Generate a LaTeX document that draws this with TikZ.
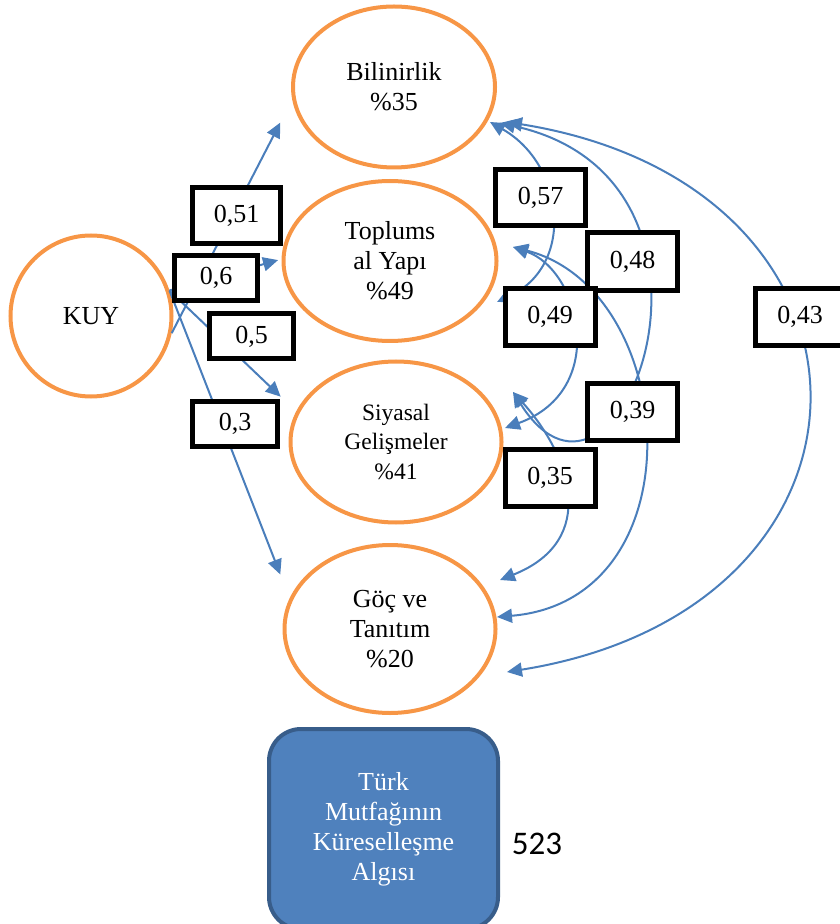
\documentclass[tikz,border=0pt]{standalone}
\usepackage{fontspec}
\setmainfont{Liberation Serif}
\newfontfamily\calibri{Carlito}
\usetikzlibrary{arrows.meta}
\usetikzlibrary{shapes.geometric}

\definecolor{korange}{HTML}{F79646}
\definecolor{kline}{HTML}{4A7EBB}
\definecolor{kfill}{HTML}{4F81BD}
\definecolor{kedge}{HTML}{385D8A}

\begin{document}
\begin{tikzpicture}[x=0.5pt,y=-0.5pt,
>={Triangle[length=7.5pt,width=7pt]},
reg/.style={->, draw=kline, line width=1pt},
kov/.style={<->, draw=kline, line width=1pt},
every node/.style={font=\fontsize{13}{15}\selectfont}]
\tikzstyle{fac} = [draw=korange, line width=2pt, ellipse, inner sep=0pt, align=center]
\tikzstyle{wt} = [draw=black, line width=2.5pt, fill=white, inner sep=0pt, minimum width=42pt, minimum height=22.5pt]
\tikzstyle{WT} = [draw=black, line width=2.5pt, fill=white, inner sep=0pt, minimum width=45pt, minimum height=28.5pt]

\useasboundingbox (0,0) rectangle (839,924);

\node[fac, minimum width=80.5pt, minimum height=80.5pt](kuy) at (91,316){KUY};
\node[fac, minimum width=101pt, minimum height=80.5pt](bil) at (394,87){Bilinirlik\\\%35};
\node[fac, minimum width=106.5pt, minimum height=80pt](topl) at (390,261){Toplums\\al Yapı\\\%49};
\node[fac, minimum width=105.5pt, minimum height=80.5pt,
  font=\fontsize{11.75}{14.75}\selectfont](siy) at (396,442){Siyasal\\Gelişmeler\\\%41};
\node[fac, minimum width=105.5pt, minimum height=84pt](goc) at (390,629){Göç ve\\Tanıtım\\\%20};

\node[draw=kedge, fill=kfill, line width=2pt, rounded corners=16pt, text=white,
  minimum width=114.5pt, minimum height=100pt, align=center](tmk) at (383.5,829)
  {Türk\\Mutfağının\\Küreselleşme\\Algısı};
\node[font=\calibri\fontsize{16.5}{18}\selectfont](n523) at (537,844){523};

% paths from KUY
\draw[reg, shorten >=13pt] (kuy.-12) -- (bil.187);
\draw[reg, shorten >=1.8pt] (kuy.18) -- (topl.179);
\draw[reg, shorten >=10.7pt] (kuy.18) -- (siy.163);
\draw[reg, shorten >=12.8pt] (kuy.18) -- (goc.163);

% correlation ends
\coordinate(b1) at ([shift={(96,35)}]bil.center);
\coordinate(b2) at ([shift={(106,36)}]bil.center);
\coordinate(b3) at ([shift={(113,35)}]bil.center);
\coordinate(t1) at ([shift={(107,41)}]topl.center);
\coordinate(t2) at ([shift={(123,-14)}]topl.center);
\coordinate(s1) at ([shift={(117,-50)}]siy.center);
\coordinate(s2) at ([shift={(109,-14)}]siy.center);
\coordinate(g1) at ([shift={(110,-49)}]goc.center);
\coordinate(g2) at ([shift={(107,-12)}]goc.center);
\coordinate(g3) at ([shift={(117,43)}]goc.center);

\draw[kov] (b1) .. controls (565,165) and (575,265) .. (t1);
\draw[kov] (b2) .. controls (760,180) and (620,560) .. (s1);
\draw[kov] (b3) .. controls (907,186) and (907,608) .. (g3);
\draw[kov] (t2) .. controls (580,270) and (610,390) .. (s2);
\draw[kov] (t2) .. controls (680,290) and (700,600) .. (g2);
\draw[kov] (s1) .. controls (570,455) and (600,540) .. (g1);

\node[WT, minimum width=44pt, minimum height=28pt](w51) at (236.5,215.5){0,51};
\node[wt, minimum width=41.5pt](w6) at (216,278){0,6};
\node[wt](w5) at (251.5,336.5){0,5};
\node[wt, minimum width=42.5pt](w3) at (235,424){0,3};

\node[WT, minimum height=28pt](r57) at (540.5,197.5){0,57};
\node[WT, minimum height=29pt](r48) at (632.5,261.5){0,48};
\node[WT](r49) at (550,317){0,49};
\node[WT](r43) at (800,317){0,43};
\node[WT](r39) at (632.5,412){0,39};
\node[WT](r35) at (550,477.5){0,35};

\end{tikzpicture}
\end{document}
